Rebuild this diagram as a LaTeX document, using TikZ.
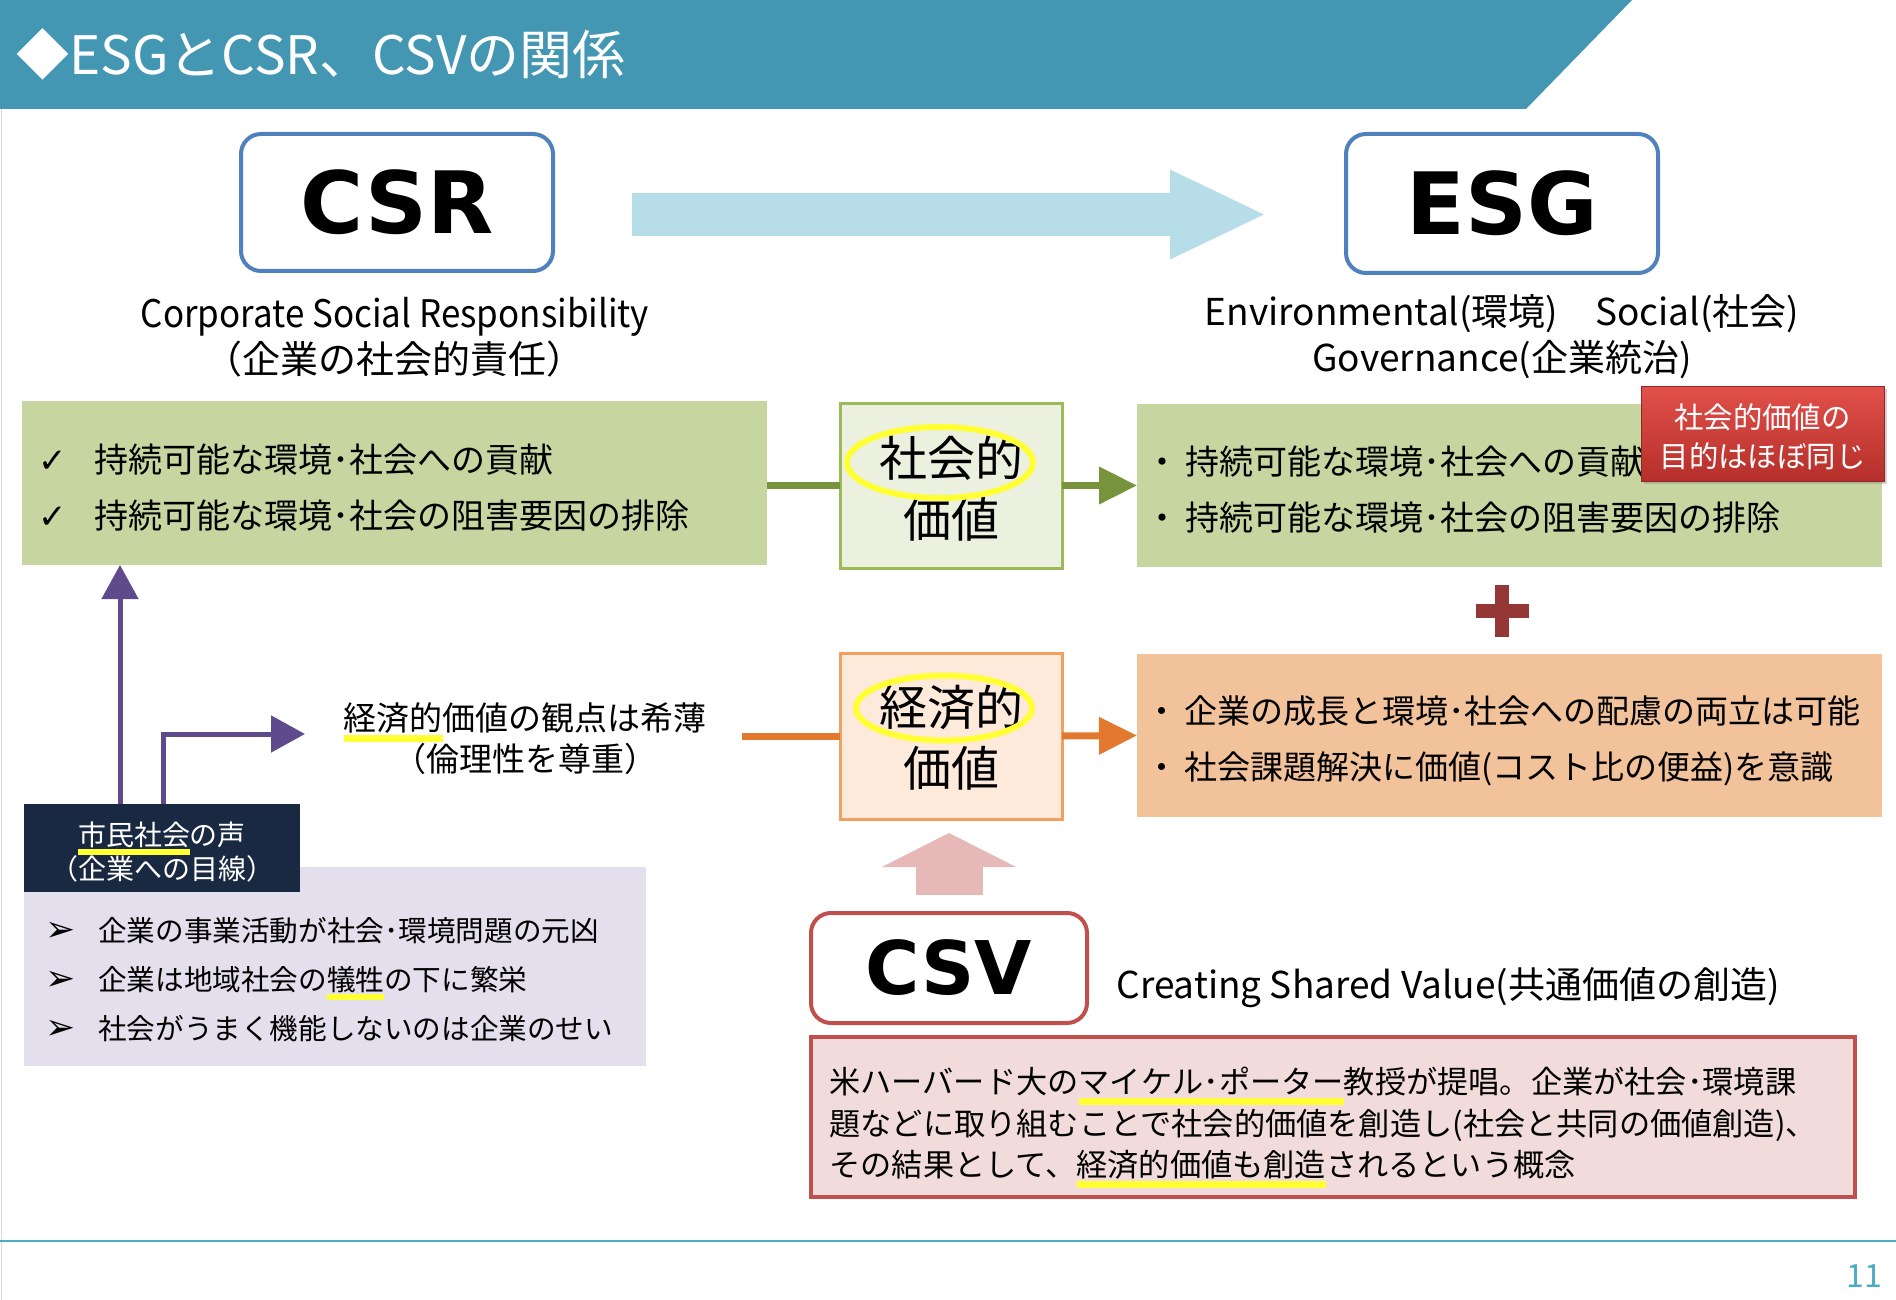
\documentclass[tikz,border=0pt]{standalone}
\usepackage{fontspec}
\setmainfont{Noto Sans CJK JP}
\newfontfamily\djv{DejaVu Sans}
\usetikzlibrary{arrows.meta,shadows}
\definecolor{titlebar}{HTML}{4397B3}
\definecolor{logoblue}{HTML}{4F81BD}
\definecolor{logored}{HTML}{C0504D}
\definecolor{bigarrow}{HTML}{B7DDE8}
\definecolor{greenbox}{HTML}{C7D6A0}
\definecolor{greenlight}{HTML}{EBF1DE}
\definecolor{greenedge}{HTML}{9BBB59}
\definecolor{colOlive}{HTML}{77933C}
\definecolor{orangebox}{HTML}{F2C29B}
\definecolor{orangelight}{HTML}{FDEADA}
\definecolor{orangeedge}{HTML}{F0A060}
\definecolor{orangeline}{HTML}{E3782F}
\definecolor{lavender}{HTML}{E4DFEC}
\definecolor{navy}{HTML}{1A2942}
\definecolor{purplearr}{HTML}{5F4B8B}
\definecolor{pinkarr}{HTML}{E6B9B8}
\definecolor{pinkbox}{HTML}{F2DCDB}
\definecolor{plusred}{HTML}{953735}
\definecolor{badgetop}{HTML}{E2504A}
\definecolor{badgebot}{HTML}{B52F2A}
\definecolor{hly}{HTML}{FFFF33}
\definecolor{colTeal}{HTML}{4BACC6}
\newsavebox\hlbox
\newcommand\hlu[1]{\sbox\hlbox{#1}\rlap{\textcolor{hly}{\rule[-0.34em]{\wd\hlbox}{0.2em}}}\usebox\hlbox}
\begin{document}
\begin{tikzpicture}[x=0.5pt,y=-0.5pt,
  panel/.style={rectangle, inner sep=0pt, outer sep=0pt},
  logo/.style={panel, rounded corners=10pt, draw=#1, line width=2pt, fill=white, font=\djv\bfseries\fontsize{43pt}{43pt}\selectfont},
  sub/.style={inner sep=0pt, align=center, font=\fontsize{18.5pt}{23pt}\selectfont},
  list/.style={inner sep=0pt, align=left, anchor=west},
  valbox/.style={panel, line width=1.5pt, minimum width=111pt, minimum height=82.5pt},
  valtext/.style={inner sep=0pt, align=center, font=\fontsize{24pt}{30.5pt}\selectfont},
  wide/.style={panel, minimum width=372.5pt, minimum height=81.5pt},
  conn/.style={line width=3.5pt, -{Triangle[length=19pt,width=18pt]}},
  plain/.style={line width=3.5pt},
  parr/.style={draw=purplearr, line width=2.5pt, -{Triangle[length=17pt,width=18pt]}},
  hlring/.style={draw=hly, line width=3pt},
]
\useasboundingbox (0,0) rectangle (1896,1300);
\fill[white] (0,0) rectangle (1896,1300);
\draw[gray!30, line width=0.5pt] (1,109) -- (1,1300);
% title
\fill[titlebar] (0,0) -- (1632,0) -- (1526,109) -- (0,109) -- cycle;
\node[anchor=west, inner sep=0pt, text=white, font=\fontsize{26.5pt}{30pt}\selectfont] (title) at (16,54) {◆ESGとCSR、CSVの関係};
% logos
\node[logo=logoblue, minimum width=156pt, minimum height=68.5pt] (csr) at (397,202.5) {CSR};
\node[logo=logoblue, minimum width=156pt, minimum height=69.5pt] (esg) at (1502,203.5) {ESG};
\draw[bigarrow, line width=21.5pt, -{Triangle[length=48.5pt,width=41pt]}, shorten <=39.5pt, shorten >=39.5pt] ([yshift=-6pt]csr.east) -- ([yshift=-5.5pt]esg.west);
\node[sub, font=\fontsize{19pt}{23pt}\selectfont] (csrsub) at (395,337) {\scalebox{0.92}[1]{Corporate Social Responsibility}\\（企業の社会的責任）};
\node[sub] (esgsub) at (1502,337) {Environmental(環境)　Social(社会)\\Governance(企業統治)};
% green row
\node[wide, fill=greenbox, minimum height=82pt] (gl) at (394.5,483) {};
\node[list, font=\fontsize{17pt}{28pt}\selectfont] (gltext) at ([xshift=8pt,yshift=-2.5pt]gl.west) {\makebox[28pt][l]{\djv ✓}持続可能な環境･社会への貢献\\\makebox[28pt][l]{\djv ✓}持続可能な環境･社会の阻害要因の排除};
\node[valbox, draw=greenedge, fill=greenlight] (soc) at (951,485.5) {};
\node[valtext] (soctext) at ([yshift=-1.5pt]soc.center) {社会的\\価値};
\draw[hlring] (940,462.5) ellipse [x radius=46.5pt, y radius=17.75pt];
\draw[plain, colOlive] (soc.west -| gl.east) -- (soc.west);
\node[wide, fill=greenbox] (gr) at (1509.5,485.5) {};
\draw[conn, colOlive] (soc.east) -- (gr.west);
\node[list, font=\fontsize{17pt}{28pt}\selectfont] (grtext) at ([xshift=4pt,yshift=-2pt]gr.west) {・\hspace{3pt}持続可能な環境･社会への貢献\\・\hspace{3pt}持続可能な環境･社会の阻害要因の排除};
\node[panel, minimum width=121.5pt, minimum height=47.5pt, top color=badgetop, bottom color=badgebot, draw=badgebot!80!black, line width=0.5pt, drop shadow={opacity=0.35, shadow xshift=1.5pt, shadow yshift=-1.5pt}] (badge) at (1762.5,433.5) {};
\node[inner sep=0pt, text=white, align=center, font=\fontsize{14.7pt}{19.5pt}\selectfont] (badgetext) at ([yshift=-1.5pt]badge.center) {社会的価値の\\目的はほぼ同じ};
% plus
\fill[plusred] (1476,604) rectangle (1529,618);
\fill[plusred] (1495,585) rectangle (1509,637);
% orange row
\node[valbox, draw=orangeedge, fill=orangelight, minimum height=83pt] (eco) at (951,736) {};
\node[valtext] (ecovaltext) at ([yshift=-1pt]eco.center) {経済的\\価値};
\draw[hlring] (944,708) ellipse [x radius=44pt, y radius=16.25pt];
\node[wide, fill=orangebox] (or) at (1509.5,735.5) {};
\draw[conn, orangeline] (eco.east) -- (or.west);
\node[list, font=\fontsize{16.5pt}{28pt}\selectfont] (ortext) at ([xshift=4pt,yshift=-2.5pt]or.west) {・\hspace{3pt}企業の成長と環境･社会への配慮の両立は可能\\・\hspace{3pt}社会課題解決に価値(コスト比の便益)を意識};
\node[sub, font=\fontsize{16.5pt}{20.5pt}\selectfont] (ecotxt) at (525,739) {\hlu{経済的}価値の観点は希薄\\（倫理性を尊重）};
\coordinate (ecostart) at (742,736);
\draw[plain, orangeline] (ecostart) -- (eco.west);
% civil society
\node[panel, fill=lavender, minimum width=311pt, minimum height=99.5pt] (lav) at (335,966.5) {};
\node[list, font=\fontsize{14.3pt}{24.5pt}\selectfont] (lavtext) at ([xshift=10.5pt,yshift=-6.5pt]lav.west) {\makebox[26.5pt][l]{\djv\fontsize{18pt}{18pt}\selectfont ➢}企業の事業活動が社会･環境問題の元凶\\\makebox[26.5pt][l]{\djv\fontsize{18pt}{18pt}\selectfont ➢}企業は地域社会の\hlu{犠牲}の下に繁栄\\\makebox[26.5pt][l]{\djv\fontsize{18pt}{18pt}\selectfont ➢}社会がうまく機能しないのは企業のせい};
\node[panel, fill=navy, minimum width=138pt, minimum height=44pt] (voice) at (162,848) {};
\node[inner sep=0pt, text=white, align=center, font=\fontsize{14pt}{17pt}\selectfont] (voicetext) at ([yshift=-2pt]voice.center) {\hlu{市民社会}の声\\（企業への目線）};
\coordinate (vx1) at (120,0);
\coordinate (vx2) at (163,0);
\coordinate (ptip) at (305,734);
\draw[parr] (vx1 |- voice.north) -- (vx1 |- gl.south);
\draw[parr] (vx2 |- voice.north) |- (ptip);
% CSV
\node[logo=logored, minimum width=138pt, minimum height=55pt, font=\djv\bfseries\fontsize{37pt}{37pt}\selectfont] (csv) at (949,968) {CSV};
\draw[pinkarr, line width=33.5pt, -{Triangle[length=17pt,width=66.5pt]}, shorten <=9pt, shorten >=7pt] (csv.north) -- (csv.north |- eco.south);
\node[anchor=west, inner sep=0pt, font=\fontsize{18.5pt}{23pt}\selectfont] (csvsub) at (1116,988) {Creating Shared Value(共通価値の創造)};
\node[panel, fill=pinkbox, draw=logored, line width=2pt, minimum width=522pt, minimum height=80pt] (desc) at (1333,1117) {};
\node[list, font=\fontsize{15.6pt}{20.75pt}\selectfont] (desctext) at ([xshift=9pt,yshift=-5.25pt]desc.west) {米ハーバード大の\hlu{マイケル･ポーター}教授が提唱。企業が社会･環境課\\題などに取り組むことで社会的価値を創造し(社会と共同の価値創造)、\\その結果として、\hlu{経済的価値も創造}されるという概念};
% footer
\draw[colTeal, line width=1pt] (0,1241) -- (1896,1241);
\node[text=colTeal, inner sep=0pt, font=\fontsize{16pt}{16pt}\selectfont] (pg) at (1864,1276) {11};
\end{tikzpicture}
\end{document}
